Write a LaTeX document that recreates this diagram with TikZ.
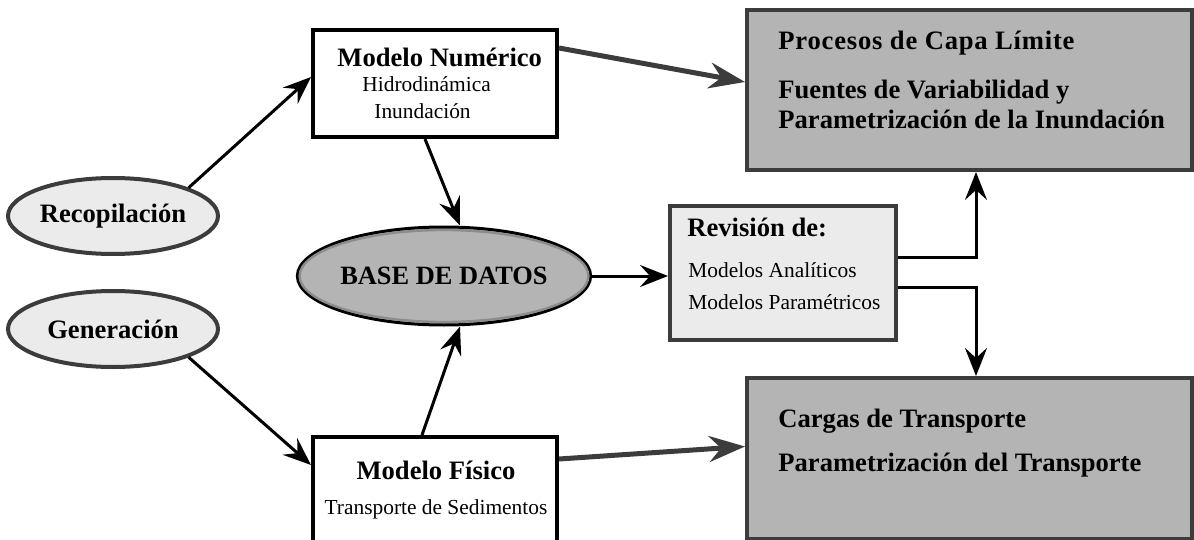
\documentclass[tikz,border=0pt]{standalone}
\usepackage{fontspec}
\setmainfont{Liberation Serif}
\usetikzlibrary{positioning, shapes.geometric, arrows.meta}

\definecolor{lightfill}{HTML}{EBEBEB}
\definecolor{darkfill}{HTML}{B4B4B4}
\definecolor{rim}{HTML}{3C3C3C}
\definecolor{innerrim}{HTML}{8C8C8C}

\tikzset{
    title/.style={font=\bfseries\fontsize{13.3}{16}\selectfont, inner sep=0pt},
    sub/.style={font=\fontsize{10.7}{13}\selectfont, inner sep=0pt},
    source/.style={ellipse, draw=rim, fill=lightfill, line width=2pt, inner sep=0pt,
        minimum width=105pt, minimum height=38pt, font=\bfseries\fontsize{13.3}{16}\selectfont},
    model/.style={rectangle, draw=black, fill=white, line width=2pt, minimum width=122pt},
    result/.style={rectangle, draw=rim, fill=darkfill, line width=2pt, minimum width=222.5pt},
    flow/.style={-{Stealth[length=14pt, width=11pt, inset=5pt]}, line width=1.5pt},
    bigflow/.style={-{Stealth[length=18pt, width=13pt, inset=6pt]}, line width=2.5pt, draw=rim}
}

\begin{document}
\begin{tikzpicture}[x=0.5pt, y=-0.5pt]

    \useasboundingbox (0,0) rectangle (1194,540);

    \node[source] (recop) at (113,216) {Recopilación};
    \node[source] (gener) [below=16.5pt of recop] {Generación};

    \node[model, minimum height=53.5pt] (numerico) at (435,83.5) {};
    \node[model, minimum height=63.5pt] (fisico) [below=148pt of numerico] {};

    \node[ellipse, draw=black, fill=darkfill, line width=1.5pt, inner sep=0pt,
        minimum width=146pt, minimum height=49pt,
        font=\bfseries\fontsize{13.2}{15}\selectfont] (base) at (444,276) {BASE DE DATOS};
    \draw[innerrim, line width=1.2pt] (base.center) ellipse [x radius=72.2pt, y radius=23pt];

    \node[rectangle, draw=rim, fill=lightfill, line width=2pt,
        minimum width=113pt, minimum height=67pt] (revision) at (783,273) {};

    \node[result, minimum height=80pt] (procesos) at (969.5,90) {};
    \node[result, minimum height=80.5pt] (cargas) [below=102pt of procesos] {};

    \node[title, anchor=base west] (numtitle) at (337,67) {Modelo Numérico};
    \node[sub, anchor=base west] (numhidro) at (362,92) {Hidrodinámica};
    \node[sub, anchor=base west] (numinund) at (374,119) {Inundación};

    \node[title, anchor=base] (fistitle) at (436,479) {Modelo Físico};
    \node[sub, anchor=base] (fissed) at (436,514) {Transporte de Sedimentos};

    \node[title, anchor=base west] (revtitle) at (687,236) {Revisión de:};
    \node[sub, anchor=base west] (revanal) at (688,277) {Modelos Analíticos};
    \node[sub, anchor=base west] (revparam) at (688,309) {Modelos Paramétricos};

    \node[title, anchor=base west] (proccapa) at (778,50) {\addfontfeature{LetterSpace=3}Procesos de Capa Límite};
    \node[title, anchor=base west] (procfuen) at (778,98) {Fuentes de Variabilidad y};
    \node[title, anchor=base west] (procinun) at (778,128) {Parametrización de la Inundación};

    \node[title, anchor=base west] (carcargas) at (778,427) {Cargas de Transporte};
    \node[title, anchor=base west] (carparam) at (778,471) {Parametrización del Transporte};

    \draw[flow] (recop.north east) -- ([yshift=3.25pt]numerico.west);
    \draw[flow] (gener.south east) -- ([yshift=-15pt]fisico.north west);
    \draw[flow] ([xshift=-5pt]numerico.south) -- ([xshift=8pt]base.north);
    \draw[flow] ([xshift=-6.5pt]fisico.north) -- ([xshift=8pt]base.south);
    \draw[bigflow] ([yshift=17.75pt]numerico.east) -- ([yshift=4pt]procesos.west);
    \draw[bigflow] ([yshift=-12pt]fisico.north east) -- ([yshift=6pt]cargas.west);
    \draw[flow] (base.east) -- (base.east -| revision.west);
    \draw[flow] ([yshift=8pt]revision.east) -| ([xshift=3.25pt]procesos.south);
    \draw[flow] ([yshift=-7pt]revision.east) -| ([xshift=3.25pt]cargas.north);

\end{tikzpicture}
\end{document}
